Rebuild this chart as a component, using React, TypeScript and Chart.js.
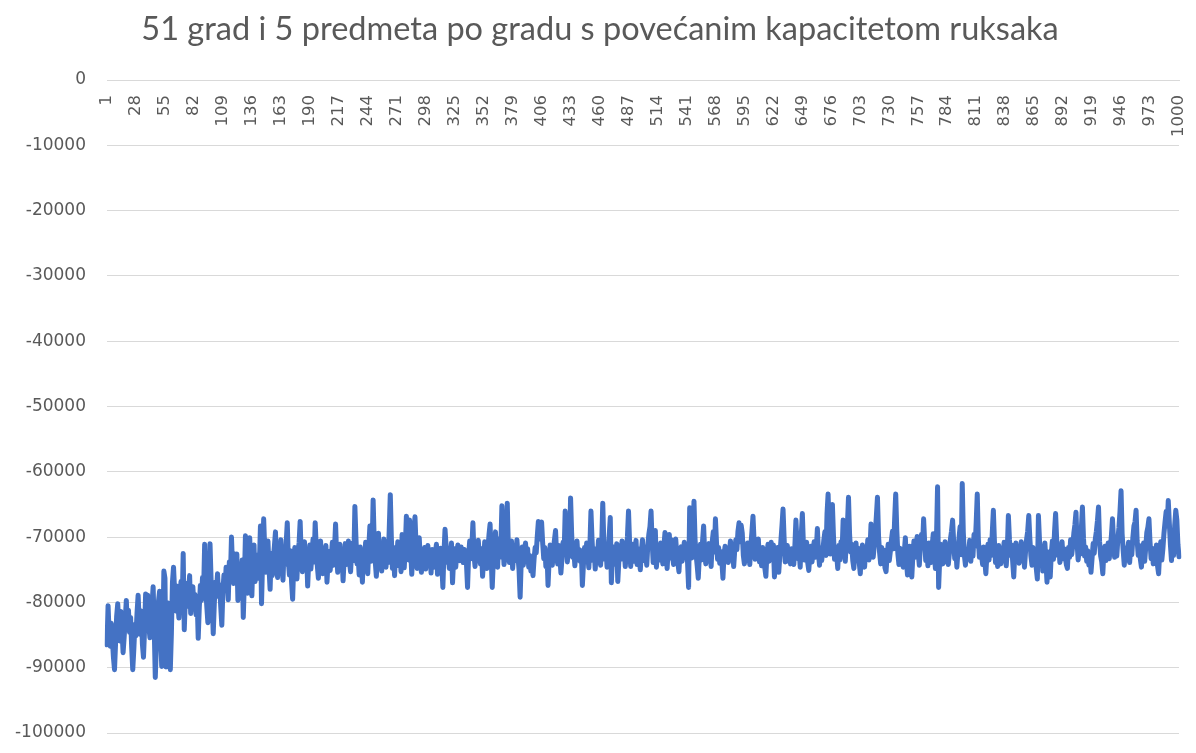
import React, { useEffect, useRef } from "react";
import { Chart, registerables } from "chart.js";

Chart.register(...registerables);

const chartTitle = "51 grad i 5 predmeta po gradu s povećanim kapacitetom ruksaka";

const generationCount = 1000;
const generations: string[] = Array.from({ length: generationCount }, (_, i) => String(i + 1));

const shownTickLabels = [
  "1", "28", "55", "82", "109", "136", "163", "190", "217", "244", "271", "298", "325",
  "352", "379", "406", "433", "460", "487", "514", "541", "568", "595", "622", "649",
  "676", "703", "730", "757", "784", "811", "838", "865", "892", "919", "946", "973", "1000",
];

const yTicks = { min: -100000, max: 0, step: 10000 };

const bestValues = [
  -86500, -80500, -84800, -86700, -83200, -85600, -88400, -90300, -86200, -82100, -80200, -83500, -85900, -81400, -84200, -87700, -85300, -82600, -79700, -83800,
  -81200, -84600, -82300, -86900, -90300, -87200, -83400, -85100, -81600, -78900, -82700, -84900, -81300, -86400, -88400, -84200, -78700, -80600, -78900, -83600,
  -85400, -82100, -80300, -77600, -83900, -91500, -86700, -82400, -79800, -78300, -84600, -89800, -85200, -75200, -76300, -89900, -83700, -80100, -86300, -90300,
  -84800, -76900, -74600, -78200, -81300, -77500, -79900, -82400, -78600, -76800, -80900, -72500, -84200, -79300, -77100, -80600, -78400, -75900, -81700, -79200,
  -77600, -80300, -78800, -81900, -79500, -85500, -80800, -77400, -79700, -76200, -78500, -71100, -77800, -80600, -83100, -78300, -71000, -76500, -79400, -84800,
  -80200, -76900, -78400, -75600, -79100, -77300, -80700, -83500, -78200, -75800, -77900, -74600, -76700, -79600, -73800, -76200, -70000, -74700, -77100, -72600,
  -75300, -72600, -79700, -76400, -74100, -77800, -73500, -82300, -76900, -69800, -74200, -78600, -72300, -70100, -75700, -79000, -73400, -71200, -76800, -74500,
  -72800, -76300, -74100, -68300, -80200, -73600, -67200, -71900, -75400, -73100, -70600, -74800, -78000, -72500, -75900, -73300, -71400, -69200, -74600, -76200,
  -72700, -75100, -70400, -73800, -76600, -71900, -74200, -70800, -67800, -73500, -75800, -72100, -76900, -79500, -74300, -71600, -73900, -76400, -72200, -70900,
  -67600, -72800, -75300, -73100, -70700, -74500, -72400, -77500, -73600, -71200, -74900, -72700, -70300, -73800, -67800, -71500, -74400, -76300, -72900, -70600,
  -73400, -75600, -72100, -74800, -71300, -76900, -73700, -72200, -75100, -73000, -70800, -74300, -71900, -68000, -72600, -75400, -73200, -71100, -74700, -72500,
  -76700, -73300, -71000, -74200, -72400, -70600, -73900, -75300, -72100, -70900, -73600, -65300, -70200, -74100, -72800, -75800, -71500, -73600, -76900, -72300,
  -74100, -70800, -72900, -75600, -71400, -68300, -73700, -72200, -64300, -70500, -73800, -76000, -72600, -69400, -74300, -71700, -75200, -73100, -70300, -72800,
  -74600, -71300, -73900, -68900, -63500, -70200, -74800, -72400, -75900, -71600, -73300, -70700, -74400, -72100, -75300, -69600, -72800, -74700, -71500, -66800,
  -70900, -73500, -67400, -71800, -75700, -72600, -69300, -66900, -71200, -74800, -72300, -70100, -73700, -75400, -71900, -73300, -71600, -74900, -72700, -71300,
  -73800, -72100, -75500, -71900, -73200, -74600, -72400, -71100, -75700, -72900, -73600, -71700, -74300, -77700, -72500, -68800, -71400, -73900, -72200, -74800,
  -72600, -70900, -77000, -73400, -71800, -74600, -72300, -71200, -72900, -73600, -71500, -72700, -73900, -71900, -72400, -74100, -77700, -72800, -70600, -73300,
  -71600, -67800, -72700, -74500, -71300, -73200, -70500, -72900, -74100, -71800, -76000, -73400, -70700, -72600, -74800, -71900, -69600, -68000, -73100, -77700,
  -73700, -71400, -69200, -72800, -74600, -70300, -73100, -71700, -65200, -70800, -74200, -72500, -69700, -64800, -71300, -73900, -72100, -70600, -74800, -72700,
  -71200, -73600, -70400, -72900, -75100, -79200, -73800, -71500, -74300, -72200, -70900, -73500, -71800, -74600, -72800, -75200, -74100, -75900, -73300, -71600,
  -72400, -69800, -67600, -70300, -68200, -67700, -70900, -73300, -71600, -74500, -72300, -77400, -73600, -71200, -72700, -74300, -71800, -70400, -69000, -72600,
  -74100, -71300, -72900, -75500, -73200, -70800, -72400, -66000, -70700, -73800, -71500, -72900, -64000, -69400, -73100, -71700, -74400, -72200, -70600, -73500,
  -71900, -73700, -72100, -77400, -74200, -71600, -73300, -70900, -72600, -74700, -71400, -66000, -70300, -73600, -72000, -74900, -71800, -73300, -70500, -72700,
  -74300, -71200, -64800, -70900, -73400, -71700, -74600, -72300, -69800, -67000, -77000, -73100, -71500, -72800, -74200, -71000, -76800, -73600, -71300, -72500,
  -70600, -73400, -71900, -74500, -72200, -69900, -66000, -70800, -74500, -72600, -71100, -73700, -72300, -70500, -74200, -71800, -73300, -75000, -72100, -70400,
  -73600, -71500, -72800, -74300, -71200, -69500, -68400, -66000, -70700, -73900, -71600, -69000, -74600, -72400, -71200, -73500, -70900, -72700, -74100, -71300,
  -69300, -72600, -74800, -71700, -69600, -73200, -70400, -72900, -74200, -71800, -70300, -72700, -73900, -75300, -72100, -71500, -73700, -72400, -70800, -73100,
  -71400, -73800, -77700, -65500, -70900, -73200, -71800, -64500, -70300, -72700, -74400, -76300, -72900, -71100, -73500, -70600, -68300, -72400, -74100, -71700,
  -73300, -71000, -72600, -74500, -70700, -69200, -72300, -67200, -70800, -73400, -71600, -74000, -72200, -73800, -76300, -72700, -71400, -73600, -72100, -73900,
  -72400, -70600, -73300, -71800, -74500, -72000, -70400, -71900, -69100, -67800, -70700, -68200, -69400, -72800, -74100, -71500, -73600, -70900, -72300, -74200,
  -71300, -69200, -66800, -70500, -73400, -71900, -72700, -70300, -73800, -72100, -74400, -71600, -73000, -74700, -76000, -72500, -71100, -73700, -72300, -70800,
  -73500, -71200, -76100, -72700, -74300, -71600, -75400, -72900, -70600, -68300, -65700, -70200, -73800, -72400, -71300, -73700, -72600, -74100, -71800, -72900,
  -74200, -71500, -67400, -70900, -73300, -72100, -74600, -69700, -66400, -71200, -73500, -72400, -70800, -73900, -75100, -72600, -71400, -73800, -72300, -70700,
  -73100, -71900, -68700, -72400, -74300, -71700, -73600, -72200, -70500, -69200, -72800, -66400, -63400, -68900, -72600, -70300, -65000, -69800, -73400, -71600,
  -72800, -74800, -71300, -73500, -70700, -72400, -67400, -71900, -73700, -70600, -68200, -63900, -69500, -72300, -71100, -73600, -74800, -72200, -70900, -73400,
  -71700, -73900, -75600, -72500, -71200, -73300, -74600, -71800, -72700, -70400, -73500, -71900, -68000, -70600, -73100, -71400, -69200, -66700, -63900, -69800,
  -72400, -74100, -71600, -73300, -72000, -74700, -75300, -72800, -71100, -73600, -72200, -70500, -69100, -71800, -67300, -63400, -68900, -72500, -74200, -71700,
  -73300, -71900, -74600, -72300, -70100, -73700, -75800, -72500, -71400, -74200, -76100, -72800, -70600, -73100, -71700, -69900, -72400, -74300, -71200, -69600,
  -71500, -67200, -70800, -73600, -72100, -74400, -70900, -72700, -73900, -71300, -69500, -72600, -74800, -70200, -62300, -77700, -73400, -71100, -72900, -74100,
  -72300, -70700, -73800, -71600, -74200, -72500, -70300, -69100, -67400, -70600, -73300, -71800, -74600, -72200, -70100, -68400, -72700, -61800, -69300, -72800,
  -74300, -71900, -73400, -72100, -70500, -73700, -71200, -72900, -69600, -71400, -67800, -63400, -70300, -73100, -71600, -72800, -74200, -71500, -73600, -75600,
  -72700, -71100, -73500, -70400, -72800, -69300, -65900, -70600, -73900, -72100, -74500, -71300, -72900, -74100, -71700, -73300, -70800, -72600, -74400, -71900,
  -66700, -70400, -72800, -71200, -73700, -76100, -72300, -70900, -73400, -71600, -74000, -72500, -70700, -73200, -71800, -74600, -72200, -70300, -69100, -66700,
  -70200, -72900, -74300, -71600, -73500, -72100, -74800, -76400, -66700, -70500, -73800, -71400, -75200, -72600, -70900, -73700, -76900, -72300, -74100, -76100,
  -72500, -70600, -73400, -69200, -66400, -70300, -72800, -71400, -73900, -72200, -70700, -73300, -71800, -72900, -74200, -74800, -71600, -73100, -70400, -72700,
  -71300, -69400, -68100, -66200, -70800, -73500, -71900, -72600, -68700, -65400, -70200, -72900, -71500, -73700, -72100, -74300, -72800, -75400, -73200, -71000,
  -72500, -70300, -69100, -67500, -65400, -70700, -72900, -73800, -75600, -72200, -71400, -73600, -72700, -70900, -73300, -71600, -69800, -67200, -70500, -73100,
  -71800, -72900, -70400, -68600, -66100, -62900, -69500, -72100, -74300, -71700, -73500, -72300, -70800, -73900, -71500, -72700, -70100, -68300, -67700, -65900,
  -70600, -72800, -71300, -73400, -74600, -72100, -70900, -73700, -71600, -69300, -68500, -67200, -70800, -73300, -71700, -74100, -72500, -73800, -71200, -74400,
  -75600, -72300, -70700, -73500, -71800, -69400, -67700, -66100, -68300, -64400, -67900, -71200, -73600, -70500, -72800, -68200, -65900, -67400, -71100, -73000,
];

const lineColor = "#4472C4";
const textColor = "#595959";
const gridColor = "#d9d9d9";

const widenYLabelArea = {
  id: "widenYLabelArea",
  afterLayout(chart: any) {
    const y = chart.scales.y;
    if (y) y.left = 0;
  },
};

export default function App() {
  const canvasRef = useRef<HTMLCanvasElement | null>(null);

  useEffect(() => {
    const canvas = canvasRef.current;
    if (!canvas) return;
    const shown = new Set(shownTickLabels);
    const chart = new Chart(canvas, {
      type: "line",
      data: {
        labels: generations,
        datasets: [
          {
            data: bestValues,
            borderColor: lineColor,
            backgroundColor: lineColor,
            borderWidth: 5,
            pointRadius: 0,
            pointHoverRadius: 0,
            tension: 0,
            borderJoinStyle: "round",
            borderCapStyle: "round",
            fill: false,
          },
        ],
      },
      plugins: [widenYLabelArea],
      options: {
        responsive: false,
        animation: false,
        devicePixelRatio: 1,
        events: [],
        layout: { padding: { left: 21, right: 17, top: 0, bottom: 20 } },
        plugins: {
          legend: { display: false },
          tooltip: { enabled: false },
          title: {
            display: true,
            text: chartTitle,
            color: textColor,
            font: { family: "Lato, 'Open Sans', sans-serif", size: 32.5, weight: "normal", lineHeight: 1.2 },
            padding: { top: 10, bottom: 31 },
          },
        },
        scales: {
          x: {
            type: "category",
            position: { y: 0 } as any,
            offset: false,
            grid: { display: false, drawTicks: false },
            border: { display: true, color: gridColor, width: 1 },
            ticks: {
              autoSkip: false,
              minRotation: 90,
              maxRotation: 90,
              padding: 15,
              color: textColor,
              font: { family: "'DejaVu Sans', sans-serif", size: 16.5 },
              callback: function (this: any, _v: any, index: number) {
                const lab = generations[index];
                return shown.has(lab) ? lab : "";
              },
            },
            afterFit: (scale: any) => {
              scale.paddingLeft = 0;
              scale.paddingRight = 0;
              scale.paddingTop = 0;
              scale.paddingBottom = 0;
            },
          },
          y: {
            type: "linear",
            position: "left",
            min: yTicks.min,
            max: yTicks.max,
            grid: { color: gridColor, lineWidth: 1, drawTicks: false },
            border: { display: false },
            ticks: {
              stepSize: yTicks.step,
              padding: 21,
              color: textColor,
              font: { family: "'DejaVu Sans', sans-serif", size: 17 },
              callback: (v: any) => String(v),
            },
            afterFit: (scale: any) => {
              scale.width = 86;
              scale.paddingTop = 0;
              scale.paddingBottom = 0;
            },
          },
        },
      },
    });
    return () => chart.destroy();
  }, []);

  return (
    <div style={{ position: "fixed", left: 0, top: 0, width: 1196, height: 753, background: "#fff" }}>
      <canvas ref={canvasRef} width={1196} height={753} style={{ display: "block" }} />
    </div>
  );
}
